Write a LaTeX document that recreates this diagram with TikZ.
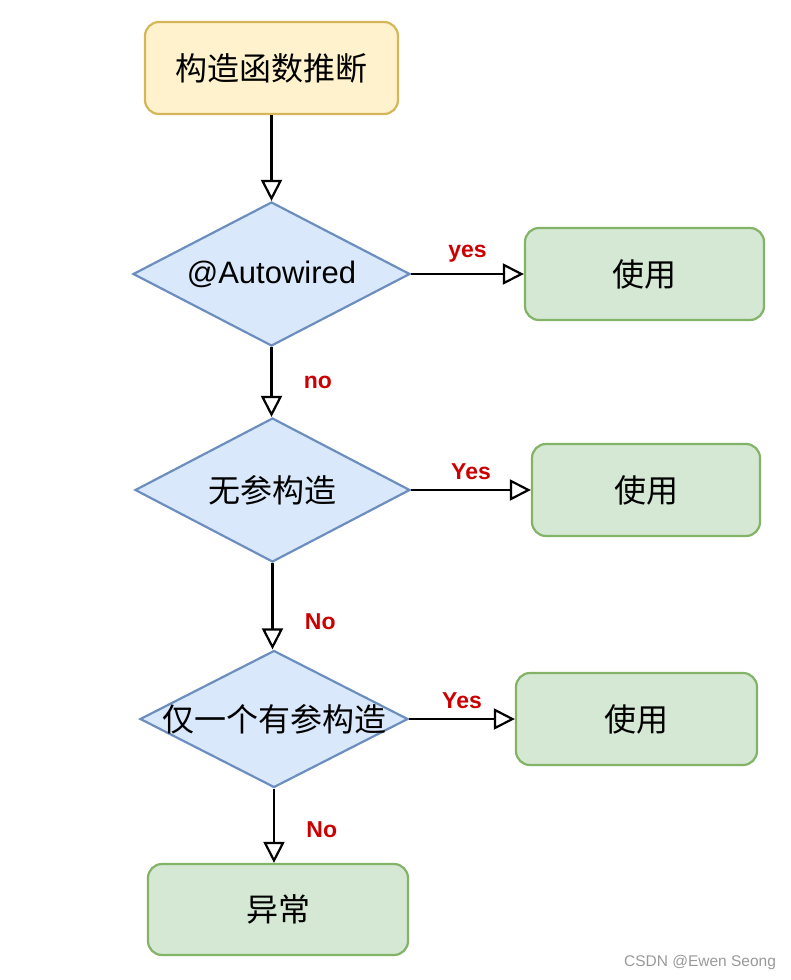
\documentclass[tikz,border=0pt]{standalone}
\usepackage{fontspec}
\setmainfont{Liberation Sans}
\newfontfamily\cjk{Noto Sans CJK SC}
\usetikzlibrary{shapes.geometric,arrows.meta}
\definecolor{startfill}{HTML}{FFF2CC}
\definecolor{startline}{HTML}{D6B656}
\definecolor{askfill}{HTML}{DAE8FC}
\definecolor{askline}{HTML}{6C8EBF}
\definecolor{usefill}{HTML}{D5E8D4}
\definecolor{useline}{HTML}{82B366}
\definecolor{answer}{HTML}{CC0000}

\begin{document}
\begin{tikzpicture}[x=1pt,y=-1pt]
\tikzset{box/.style = {shape=rectangle,rounded corners=14pt,draw=useline,fill=usefill,line width=2.2pt,minimum height=92pt,font=\fontsize{32}{37}\selectfont\cjk}}
\tikzset{ask/.style = {shape=diamond,draw=askline,fill=askfill,line width=2.2pt,inner sep=0pt}}
\tikzset{edge/.style = {-{Triangle[open,length=21pt,width=21pt]},line width=2.2pt}}
\tikzset{answer/.style = {text=answer,font=\fontsize{23}{27}\selectfont\bfseries}}
\useasboundingbox (0,0) rectangle (790,980);
%\draw (0,0) rectangle (790,980);
\node[box,draw=startline,fill=startfill,minimum width=253pt] (s) at (271.5,68) {构造函数推断};
\node[ask,minimum width=277pt,minimum height=144pt,label={[font=\fontsize{31}{36}\selectfont]center:@Autowired}] (d1) at (271.5,274) {};
\node[box,minimum width=239pt] (u1) at (644.5,274) {使用};
\node[ask,minimum width=275pt,minimum height=144pt,label={[font=\fontsize{32}{37}\selectfont\cjk]center:无参构造}] (d2) at (272.5,490) {};
\node[box,minimum width=228pt] (u2) at (646,490) {使用};
\node[ask,minimum width=268pt,minimum height=137pt,label={[font=\fontsize{32}{37}\selectfont\cjk]center:仅一个有参构造}] (d3) at (274,719) {};
\node[box,minimum width=241pt] (u3) at (636.5,719) {使用};
\node[box,minimum width=260pt,minimum height=91pt] (e) at (278,909.5) {异常};
\draw[edge] (s.south) -- (d1.north);
\path[edge]
(d1.east) edge node[answer,above=7pt] {yes} (u1.west)
(d1.south) edge node[answer,right=28pt] {no} (d1.south |- d2.north)
(d2.east) edge node[answer,above=6pt] {Yes} (u2.west)
(d2.south) edge node[answer,right=28pt,pos=0.68] {No} (d2.south |- d3.north)
(d3.east) edge node[answer,above=6pt] {Yes} (d3.east -| u3.west)
(d3.south) edge node[answer,right=28pt,pos=0.55] {No} (d3.south |- e.north);
\node[text=black!40,font=\fontsize{15.5}{19}\selectfont] (mark) at (700,962) {CSDN @Ewen Seong};
\end{tikzpicture}
\end{document}
